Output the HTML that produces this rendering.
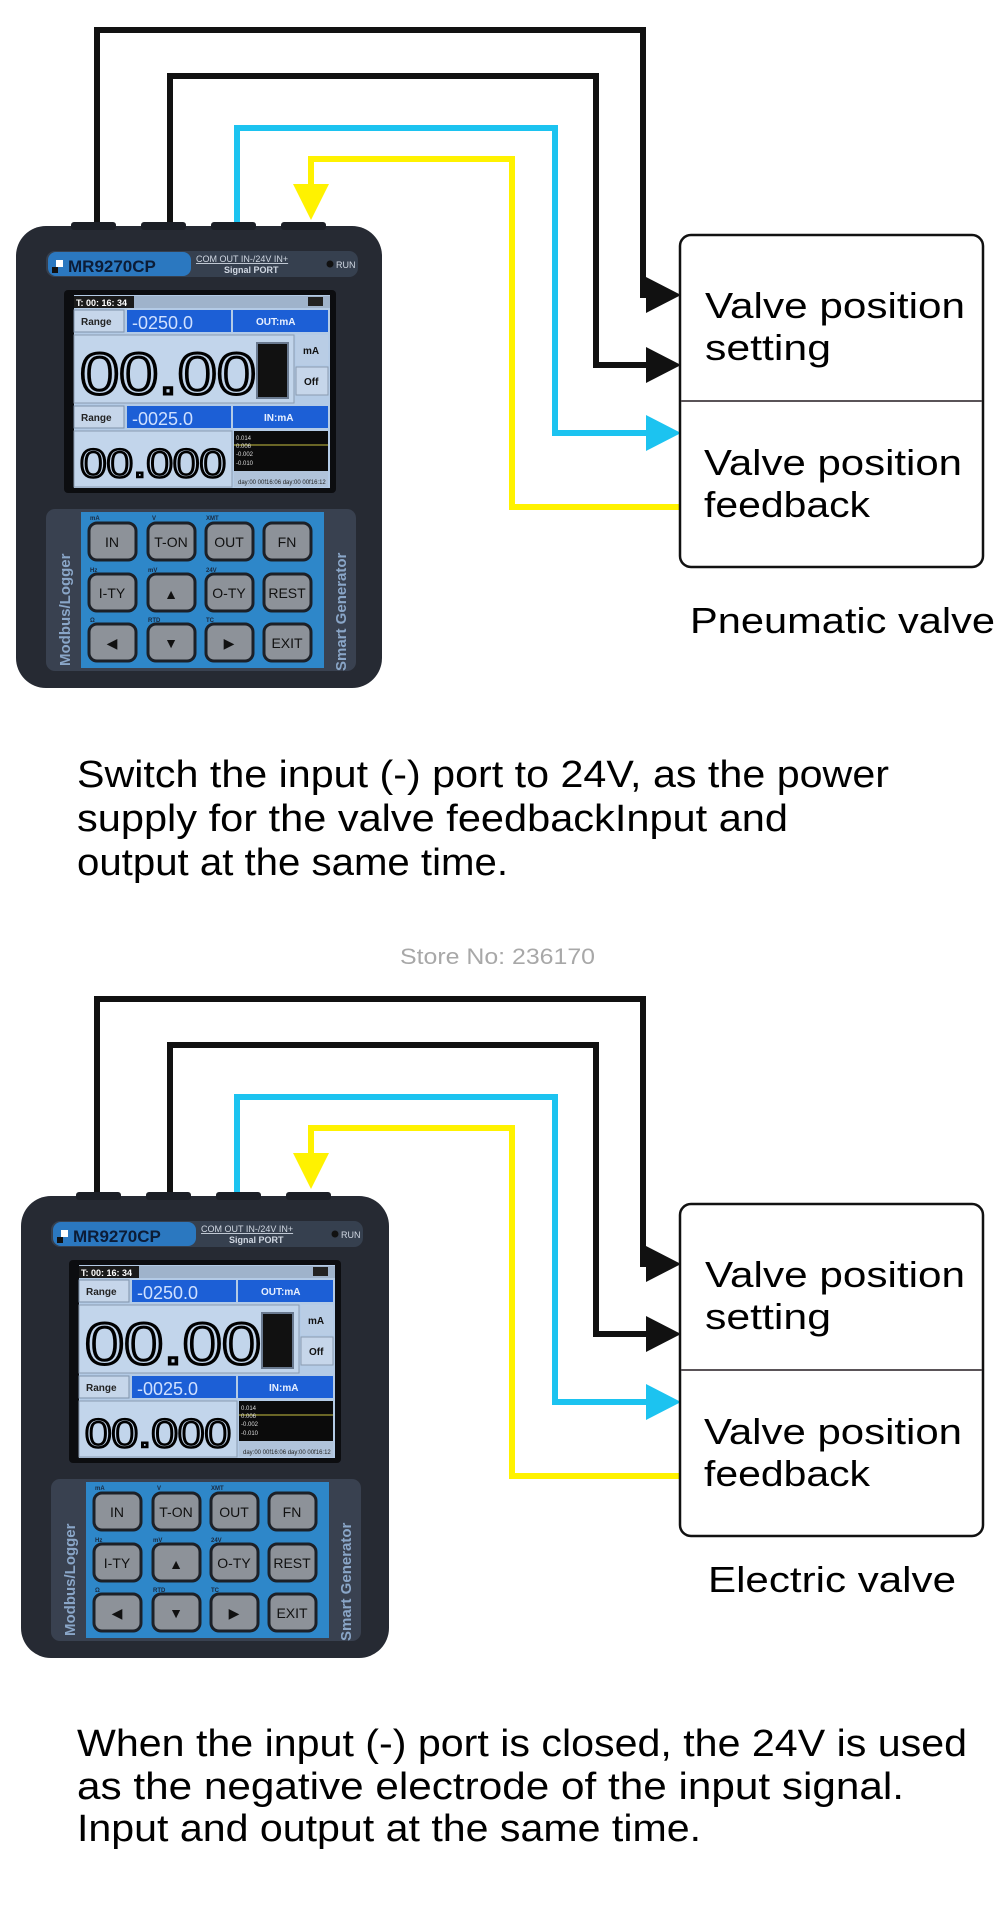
<!DOCTYPE html>
<html><head><meta charset="utf-8"><style>
html,body{margin:0;padding:0;background:#fff;}
svg{display:block;}
text{font-family:"Liberation Sans",Arial,sans-serif;}
</style></head><body>
<svg width="1000" height="1910" viewBox="0 0 1000 1910" xmlns="http://www.w3.org/2000/svg">
<rect width="1000" height="1910" fill="#fff"/>

<!-- ===== SECTION 1 wires & box ===== -->
<g>
<polyline points="97,225 97,30 643,30 643,295 652,295" fill="none" stroke="#111" stroke-width="6"/>
<polygon points="646,277 681,295 646,313" fill="#111"/>
<polyline points="170,225 170,76 596,76 596,365 652,365" fill="none" stroke="#111" stroke-width="6"/>
<polygon points="646,347 681,365 646,383" fill="#111"/>
<polyline points="237,225 237,128 555,128 555,433 652,433" fill="none" stroke="#1cc3f0" stroke-width="6"/>
<polygon points="646,415 681,433 646,451" fill="#1cc3f0"/>
<polyline points="311,190 311,159 512,159 512,507 681,507" fill="none" stroke="#fff200" stroke-width="6"/>
<polygon points="293,184 329,184 311,220" fill="#fff200"/>
<rect x="680" y="235" width="303" height="332" rx="11" fill="#fff" stroke="#111" stroke-width="2.5"/>
<line x1="681" y1="401" x2="982" y2="401" stroke="#5a5458" stroke-width="2"/>
<text x="705" y="318" font-size="36" textLength="260" lengthAdjust="spacingAndGlyphs">Valve position</text>
<text x="705" y="360" font-size="36" textLength="126" lengthAdjust="spacingAndGlyphs">setting</text>
<text x="704" y="475" font-size="36" textLength="258" lengthAdjust="spacingAndGlyphs">Valve position</text>
<text x="704" y="517" font-size="36" textLength="166" lengthAdjust="spacingAndGlyphs">feedback</text>
<text x="690" y="633" font-size="36" textLength="305" lengthAdjust="spacingAndGlyphs">Pneumatic valve</text>
</g>

<!-- ===== DEVICE 1 ===== -->
<g transform="translate(16,222)">
<rect x="0" y="4" width="366" height="462" rx="30" fill="#262a33"/>
<rect x="55" y="0" width="45" height="8" rx="3" fill="#1c1f26"/>
<rect x="125" y="0" width="45" height="8" rx="3" fill="#1c1f26"/>
<rect x="195" y="0" width="45" height="8" rx="3" fill="#1c1f26"/>
<rect x="265" y="0" width="45" height="8" rx="3" fill="#1c1f26"/>
<rect x="30" y="29" width="312" height="26" rx="9" fill="#36404f"/>
<rect x="32" y="30" width="143" height="24" rx="8" fill="#2b78c0"/>
<rect x="40" y="38" width="7" height="7" fill="#fff"/><rect x="36" y="45" width="6" height="6" fill="#111"/>
<text x="52" y="50" font-size="17" font-weight="bold" fill="#0c1c36">MR9270CP</text>
<text x="180" y="40" font-size="9" fill="#d0d7e2" text-decoration="underline">COM  OUT   IN-/24V   IN+</text>
<text x="208" y="51" font-size="9" font-weight="bold" fill="#d0d7e2">Signal PORT</text>
<circle cx="314" cy="42" r="3.5" fill="#111"/>
<text x="320" y="46" font-size="9" fill="#d0d7e2">RUN</text>
<rect x="48" y="68" width="272" height="203" rx="4" fill="#0c0d10"/>
<rect x="58" y="73" width="256" height="193" fill="#b4cbe6"/>
<rect x="58" y="74" width="256" height="12" fill="#9fb3cb"/>
<rect x="58" y="74" width="60" height="12" fill="#1a1a1a"/>
<text x="60" y="84" font-size="9" font-weight="bold" fill="#fff">T: 00: 16: 34</text>
<rect x="292" y="75" width="15" height="9" fill="#222"/>
<rect x="58" y="88" width="50" height="22" fill="#c6d6ea" stroke="#7f93ab"/>
<text x="65" y="103" font-size="10" font-weight="bold" fill="#222">Range</text>
<rect x="111" y="88" width="104" height="22" fill="#1c5fd6"/>
<text x="116" y="107" font-size="18" fill="#cfe0ff">-0250.0</text>
<rect x="217" y="88" width="95" height="22" fill="#1c5fd6"/>
<text x="240" y="103" font-size="10" font-weight="bold" fill="#e8f0ff">OUT:mA</text>
<rect x="58" y="113" width="220" height="68" fill="#c2d5eb" stroke="#8a9bb0"/>
<text x="64" y="172" font-size="58" fill="none" stroke="#000" stroke-width="3" textLength="176" lengthAdjust="spacingAndGlyphs">00.00</text>
<rect x="241" y="121" width="31" height="55" fill="#111" stroke="#6a7a90" stroke-width="2"/>
<rect x="280" y="113" width="32" height="30" fill="#b9cde5"/>
<text x="287" y="132" font-size="10" font-weight="bold" fill="#111">mA</text>
<rect x="280" y="145" width="32" height="28" fill="#c6d6ea" stroke="#8a9bb0"/>
<text x="288" y="163" font-size="10" font-weight="bold" fill="#111">Off</text>
<rect x="58" y="184" width="50" height="22" fill="#c6d6ea" stroke="#7f93ab"/>
<text x="65" y="199" font-size="10" font-weight="bold" fill="#222">Range</text>
<rect x="111" y="184" width="104" height="22" fill="#1c5fd6"/>
<text x="116" y="203" font-size="18" fill="#cfe0ff">-0025.0</text>
<rect x="217" y="184" width="95" height="22" fill="#1c5fd6"/>
<text x="248" y="199" font-size="10" font-weight="bold" fill="#e8f0ff">IN:mA</text>
<rect x="58" y="209" width="158" height="56" fill="#c2d5eb" stroke="#8a9bb0"/>
<text x="64" y="255" font-size="40" fill="none" stroke="#000" stroke-width="2.5" textLength="146" lengthAdjust="spacingAndGlyphs">00.000</text>
<rect x="218" y="209" width="94" height="40" fill="#0b0b0b"/>
<line x1="218" y1="223" x2="312" y2="223" stroke="#c8c040" stroke-width="1"/>
<text x="220" y="218" font-size="6" fill="#ddd">0.014</text>
<text x="220" y="226" font-size="6" fill="#ddd">0.006</text>
<text x="220" y="234" font-size="6" fill="#ddd">-0.002</text>
<text x="220" y="243" font-size="6" fill="#ddd">-0.010</text>
<rect x="218" y="249" width="94" height="16" fill="#b0c3da"/>
<text x="222" y="262" font-size="6" fill="#222">day:00 00f16:06   day:00 00f16:12</text>
<rect x="30" y="287" width="310" height="162" rx="9" fill="#394150"/>
<rect x="65" y="290" width="243" height="156" fill="#2e87c9"/>
<text transform="translate(54,444) rotate(-90)" font-size="15" font-weight="bold" fill="#8aa6c8">Modbus/Logger</text>
<text transform="translate(330,449) rotate(-90)" font-size="15" font-weight="bold" fill="#8aa6c8">Smart Generator</text>
<g font-size="6" fill="#1a2a40" font-weight="bold">
<text x="74" y="298">mA</text><text x="136" y="298">V</text><text x="190" y="298">XMT</text>
<text x="74" y="350">Hz</text><text x="132" y="350">mV</text><text x="190" y="350">24V</text>
<text x="74" y="400">Ω</text><text x="132" y="400">RTD</text><text x="190" y="400">TC</text>
</g>
<g stroke="#1c2027" stroke-width="3" fill="#8d9299">
<rect x="73" y="301" width="47" height="37" rx="8"/><rect x="132" y="301" width="47" height="37" rx="8"/>
<rect x="190" y="301" width="47" height="37" rx="8"/><rect x="248" y="301" width="47" height="37" rx="8"/>
<rect x="73" y="352" width="47" height="37" rx="8"/><rect x="132" y="352" width="47" height="37" rx="8"/>
<rect x="190" y="352" width="47" height="37" rx="8"/><rect x="248" y="352" width="47" height="37" rx="8"/>
<rect x="73" y="402" width="47" height="37" rx="8"/><rect x="132" y="402" width="47" height="37" rx="8"/>
<rect x="190" y="402" width="47" height="37" rx="8"/><rect x="248" y="402" width="47" height="37" rx="8"/>
</g>
<g font-size="14" fill="#111" text-anchor="middle">
<text x="96" y="325">IN</text><text x="155" y="325">T-ON</text><text x="213" y="325">OUT</text><text x="271" y="325">FN</text>
<text x="96" y="376">I-TY</text><text x="155" y="377">▲</text><text x="213" y="376">O-TY</text><text x="271" y="376">REST</text>
<text x="96" y="426">◀</text><text x="155" y="426">▼</text><text x="213" y="426">▶</text><text x="271" y="426">EXIT</text>
</g>
</g>

<!-- ===== Paragraph 1 ===== -->
<text x="77" y="787" font-size="38" textLength="812" lengthAdjust="spacingAndGlyphs">Switch the input (-) port to 24V, as the power</text>
<text x="77" y="831" font-size="38" textLength="711" lengthAdjust="spacingAndGlyphs">supply for the valve feedbackInput and</text>
<text x="77" y="875" font-size="38" textLength="431" lengthAdjust="spacingAndGlyphs">output at the same time.</text>
<text x="400" y="964" font-size="22" fill="#a8a8a8" textLength="195" lengthAdjust="spacingAndGlyphs">Store No: 236170</text>

<!-- ===== SECTION 2 wires & box ===== -->
<g transform="translate(0,969)">
<polyline points="97,226 97,30 643,30 643,295 652,295" fill="none" stroke="#111" stroke-width="6"/>
<polygon points="646,277 681,295 646,313" fill="#111"/>
<polyline points="170,226 170,76 596,76 596,365 652,365" fill="none" stroke="#111" stroke-width="6"/>
<polygon points="646,347 681,365 646,383" fill="#111"/>
<polyline points="237,226 237,128 555,128 555,433 652,433" fill="none" stroke="#1cc3f0" stroke-width="6"/>
<polygon points="646,415 681,433 646,451" fill="#1cc3f0"/>
<polyline points="311,190 311,159 512,159 512,507 681,507" fill="none" stroke="#fff200" stroke-width="6"/>
<polygon points="293,184 329,184 311,220" fill="#fff200"/>
<rect x="680" y="235" width="303" height="332" rx="11" fill="#fff" stroke="#111" stroke-width="2.5"/>
<line x1="681" y1="401" x2="982" y2="401" stroke="#5a5458" stroke-width="2"/>
<text x="705" y="318" font-size="36" textLength="260" lengthAdjust="spacingAndGlyphs">Valve position</text>
<text x="705" y="360" font-size="36" textLength="126" lengthAdjust="spacingAndGlyphs">setting</text>
<text x="704" y="475" font-size="36" textLength="258" lengthAdjust="spacingAndGlyphs">Valve position</text>
<text x="704" y="517" font-size="36" textLength="166" lengthAdjust="spacingAndGlyphs">feedback</text>
<text x="708" y="623" font-size="36" textLength="248" lengthAdjust="spacingAndGlyphs">Electric valve</text>
</g>

<!-- ===== DEVICE 2 ===== -->
<g transform="translate(21,1192)">
<rect x="0" y="4" width="368" height="462" rx="30" fill="#262a33"/>
<rect x="55" y="0" width="45" height="8" rx="3" fill="#1c1f26"/>
<rect x="125" y="0" width="45" height="8" rx="3" fill="#1c1f26"/>
<rect x="195" y="0" width="45" height="8" rx="3" fill="#1c1f26"/>
<rect x="265" y="0" width="45" height="8" rx="3" fill="#1c1f26"/>
<rect x="30" y="29" width="312" height="26" rx="9" fill="#36404f"/>
<rect x="32" y="30" width="143" height="24" rx="8" fill="#2b78c0"/>
<rect x="40" y="38" width="7" height="7" fill="#fff"/><rect x="36" y="45" width="6" height="6" fill="#111"/>
<text x="52" y="50" font-size="17" font-weight="bold" fill="#0c1c36">MR9270CP</text>
<text x="180" y="40" font-size="9" fill="#d0d7e2" text-decoration="underline">COM  OUT   IN-/24V   IN+</text>
<text x="208" y="51" font-size="9" font-weight="bold" fill="#d0d7e2">Signal PORT</text>
<circle cx="314" cy="42" r="3.5" fill="#111"/>
<text x="320" y="46" font-size="9" fill="#d0d7e2">RUN</text>
<rect x="48" y="68" width="272" height="203" rx="4" fill="#0c0d10"/>
<rect x="58" y="73" width="256" height="193" fill="#b4cbe6"/>
<rect x="58" y="74" width="256" height="12" fill="#9fb3cb"/>
<rect x="58" y="74" width="60" height="12" fill="#1a1a1a"/>
<text x="60" y="84" font-size="9" font-weight="bold" fill="#fff">T: 00: 16: 34</text>
<rect x="292" y="75" width="15" height="9" fill="#222"/>
<rect x="58" y="88" width="50" height="22" fill="#c6d6ea" stroke="#7f93ab"/>
<text x="65" y="103" font-size="10" font-weight="bold" fill="#222">Range</text>
<rect x="111" y="88" width="104" height="22" fill="#1c5fd6"/>
<text x="116" y="107" font-size="18" fill="#cfe0ff">-0250.0</text>
<rect x="217" y="88" width="95" height="22" fill="#1c5fd6"/>
<text x="240" y="103" font-size="10" font-weight="bold" fill="#e8f0ff">OUT:mA</text>
<rect x="58" y="113" width="220" height="68" fill="#c2d5eb" stroke="#8a9bb0"/>
<text x="64" y="172" font-size="58" fill="none" stroke="#000" stroke-width="3" textLength="176" lengthAdjust="spacingAndGlyphs">00.00</text>
<rect x="241" y="121" width="31" height="55" fill="#111" stroke="#6a7a90" stroke-width="2"/>
<rect x="280" y="113" width="32" height="30" fill="#b9cde5"/>
<text x="287" y="132" font-size="10" font-weight="bold" fill="#111">mA</text>
<rect x="280" y="145" width="32" height="28" fill="#c6d6ea" stroke="#8a9bb0"/>
<text x="288" y="163" font-size="10" font-weight="bold" fill="#111">Off</text>
<rect x="58" y="184" width="50" height="22" fill="#c6d6ea" stroke="#7f93ab"/>
<text x="65" y="199" font-size="10" font-weight="bold" fill="#222">Range</text>
<rect x="111" y="184" width="104" height="22" fill="#1c5fd6"/>
<text x="116" y="203" font-size="18" fill="#cfe0ff">-0025.0</text>
<rect x="217" y="184" width="95" height="22" fill="#1c5fd6"/>
<text x="248" y="199" font-size="10" font-weight="bold" fill="#e8f0ff">IN:mA</text>
<rect x="58" y="209" width="158" height="56" fill="#c2d5eb" stroke="#8a9bb0"/>
<text x="64" y="255" font-size="40" fill="none" stroke="#000" stroke-width="2.5" textLength="146" lengthAdjust="spacingAndGlyphs">00.000</text>
<rect x="218" y="209" width="94" height="40" fill="#0b0b0b"/>
<line x1="218" y1="223" x2="312" y2="223" stroke="#c8c040" stroke-width="1"/>
<text x="220" y="218" font-size="6" fill="#ddd">0.014</text>
<text x="220" y="226" font-size="6" fill="#ddd">0.006</text>
<text x="220" y="234" font-size="6" fill="#ddd">-0.002</text>
<text x="220" y="243" font-size="6" fill="#ddd">-0.010</text>
<rect x="218" y="249" width="94" height="16" fill="#b0c3da"/>
<text x="222" y="262" font-size="6" fill="#222">day:00 00f16:06   day:00 00f16:12</text>
<rect x="30" y="287" width="310" height="162" rx="9" fill="#394150"/>
<rect x="65" y="290" width="243" height="156" fill="#2e87c9"/>
<text transform="translate(54,444) rotate(-90)" font-size="15" font-weight="bold" fill="#8aa6c8">Modbus/Logger</text>
<text transform="translate(330,449) rotate(-90)" font-size="15" font-weight="bold" fill="#8aa6c8">Smart Generator</text>
<g font-size="6" fill="#1a2a40" font-weight="bold">
<text x="74" y="298">mA</text><text x="136" y="298">V</text><text x="190" y="298">XMT</text>
<text x="74" y="350">Hz</text><text x="132" y="350">mV</text><text x="190" y="350">24V</text>
<text x="74" y="400">Ω</text><text x="132" y="400">RTD</text><text x="190" y="400">TC</text>
</g>
<g stroke="#1c2027" stroke-width="3" fill="#8d9299">
<rect x="73" y="301" width="47" height="37" rx="8"/><rect x="132" y="301" width="47" height="37" rx="8"/>
<rect x="190" y="301" width="47" height="37" rx="8"/><rect x="248" y="301" width="47" height="37" rx="8"/>
<rect x="73" y="352" width="47" height="37" rx="8"/><rect x="132" y="352" width="47" height="37" rx="8"/>
<rect x="190" y="352" width="47" height="37" rx="8"/><rect x="248" y="352" width="47" height="37" rx="8"/>
<rect x="73" y="402" width="47" height="37" rx="8"/><rect x="132" y="402" width="47" height="37" rx="8"/>
<rect x="190" y="402" width="47" height="37" rx="8"/><rect x="248" y="402" width="47" height="37" rx="8"/>
</g>
<g font-size="14" fill="#111" text-anchor="middle">
<text x="96" y="325">IN</text><text x="155" y="325">T-ON</text><text x="213" y="325">OUT</text><text x="271" y="325">FN</text>
<text x="96" y="376">I-TY</text><text x="155" y="377">▲</text><text x="213" y="376">O-TY</text><text x="271" y="376">REST</text>
<text x="96" y="426">◀</text><text x="155" y="426">▼</text><text x="213" y="426">▶</text><text x="271" y="426">EXIT</text>
</g>
</g>

<!-- ===== Paragraph 2 ===== -->
<text x="77" y="1756" font-size="38" textLength="890" lengthAdjust="spacingAndGlyphs">When the input (-) port is closed, the 24V is used</text>
<text x="77" y="1799" font-size="38" textLength="827" lengthAdjust="spacingAndGlyphs">as the negative electrode of the input signal.</text>
<text x="77" y="1841" font-size="38" textLength="624" lengthAdjust="spacingAndGlyphs">Input and output at the same time.</text>
</svg>
</body></html>
